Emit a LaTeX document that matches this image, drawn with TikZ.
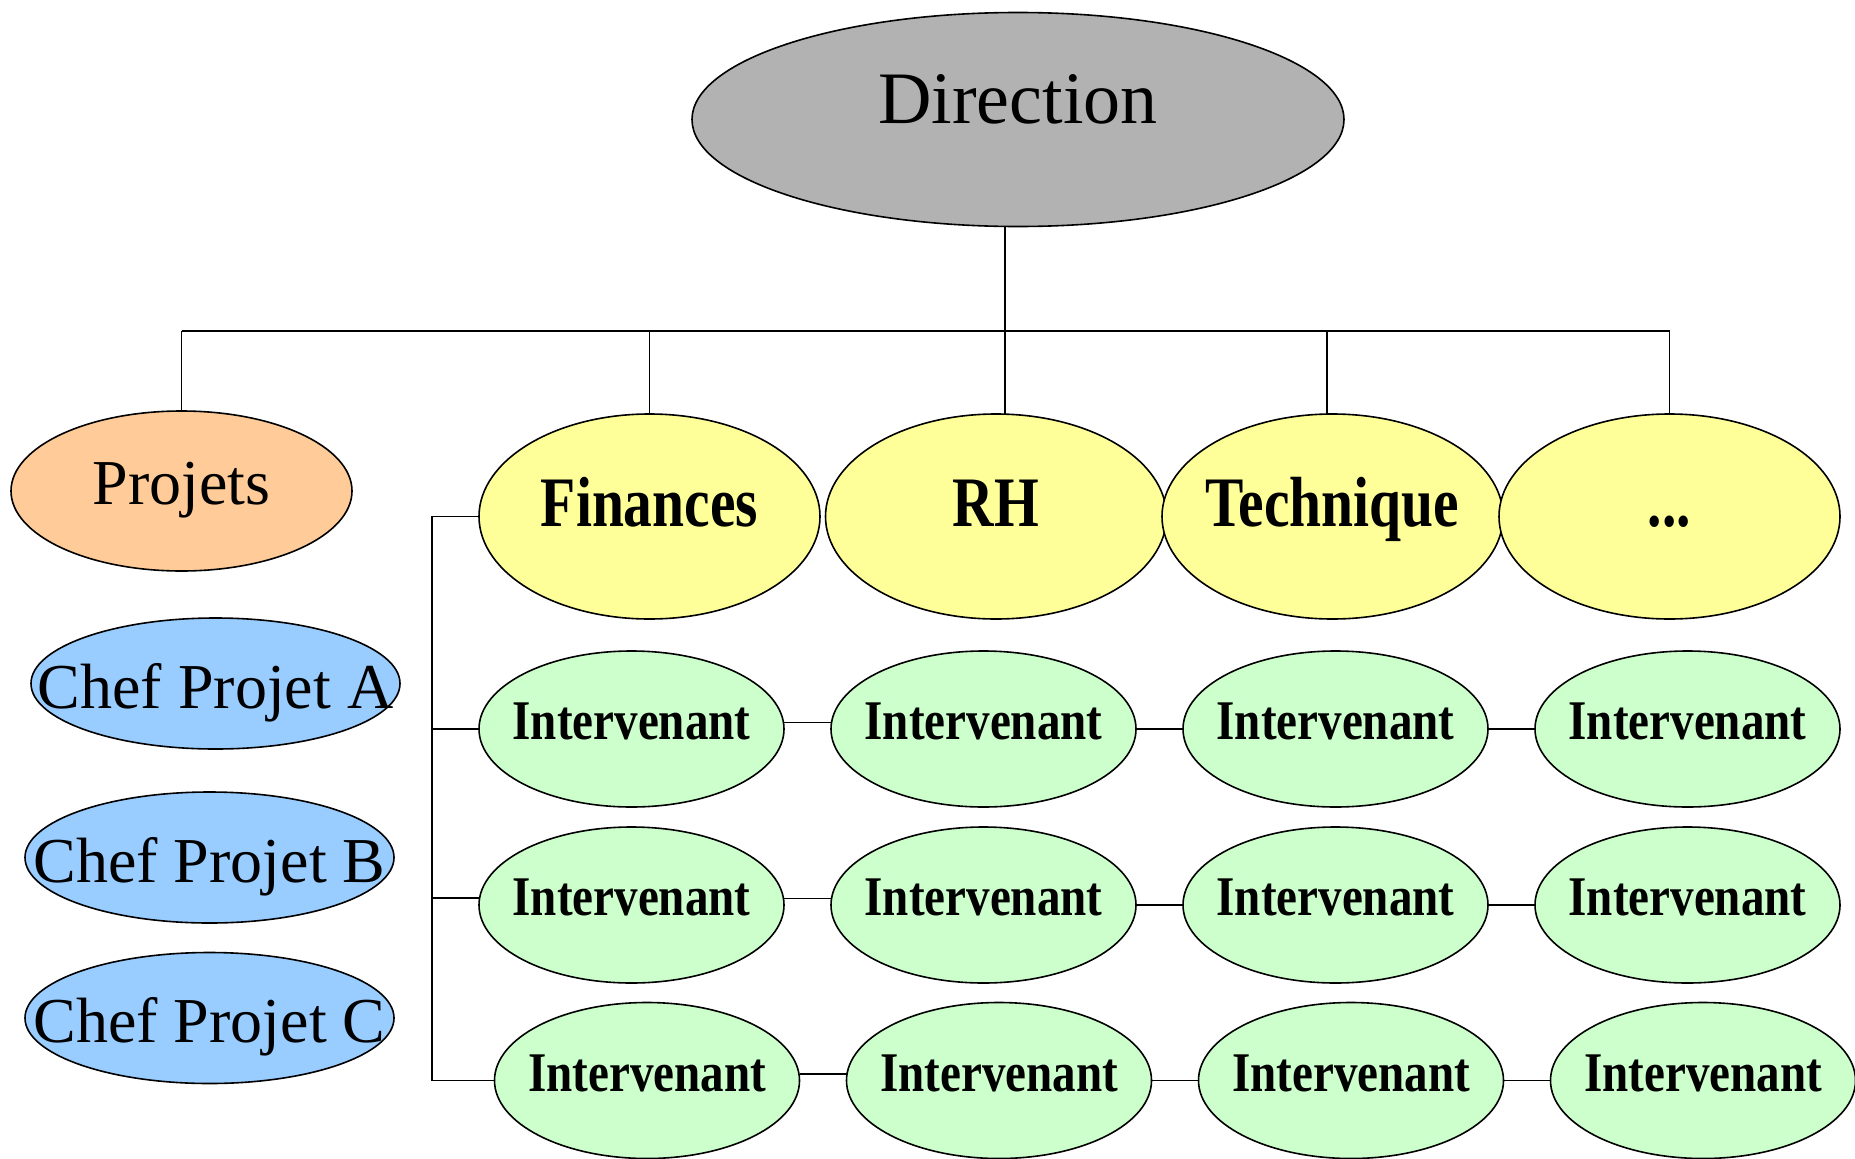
\documentclass[tikz,border=0pt]{standalone}
\usepackage{fontspec}
\usepackage{graphicx}
\setmainfont{Liberation Serif}
\usetikzlibrary{shapes.geometric}

\definecolor{dirgray}{HTML}{B2B2B2}
\definecolor{projorange}{HTML}{FFCC99}
\definecolor{chefblue}{HTML}{99CCFF}
\definecolor{deptyellow}{HTML}{FFFF99}
\definecolor{intgreen}{HTML}{CCFFCC}

% label helpers: zero-width boxes so the ellipse size is set by its own keys
\newcommand{\plainlabel}[2]{\makebox[0pt]{\fontsize{#1}{#1}\selectfont #2}}
\newcommand{\narrowlabel}[3]{\makebox[0pt]{\scalebox{#2}[1]{\fontsize{#1}{#1}\selectfont\bfseries #3}}}

\tikzset{
  oval/.style={ellipse, draw=black, line width=1.6pt, inner sep=0pt, outer sep=0pt, text depth=0pt},
  topoval/.style={oval, fill=dirgray, minimum width=652pt, minimum height=214pt, text height=7pt},
  projoval/.style={oval, fill=projorange, minimum width=341pt, minimum height=160pt, text height=26pt},
  chefoval/.style={oval, fill=chefblue, minimum width=369pt, minimum height=131pt, text height=49pt},
  deptoval/.style={oval, fill=deptyellow, minimum width=341pt, minimum height=205pt, text height=19pt},
  intoval/.style={oval, fill=intgreen, minimum width=305pt, minimum height=156pt, text height=21pt},
  link/.style={draw=black, line width=1.7pt},
}

\newcommand{\deptlabel}[1]{\narrowlabel{71}{0.81}{#1}}
\newcommand{\intlabel}{\narrowlabel{56}{0.84}{Intervenant}}

\begin{document}
\begin{tikzpicture}[x=1pt,y=-1pt]
  \useasboundingbox (0,0) rectangle (1855,1159);

  % top of the hierarchy
  \node[topoval] (dir) at (1018,119.5) {\plainlabel{74}{Direction}};

  % projects column
  \node[projoval] (proj) at (181.5,491) {\plainlabel{64}{Projets}};
  \node[chefoval] (chefA) at (215.5,683.5) {\plainlabel{64}{Chef Projet A}};
  \node[chefoval] (chefB) at (209.5,857.5) {\plainlabel{64}{Chef Projet B}};
  \node[chefoval] (chefC) at (209.5,1018) {\plainlabel{64}{Chef Projet C}};

  % departments
  \node[deptoval] (fin)  at (649.5,516.5)  {\deptlabel{Finances}};
  \node[deptoval] (rh)   at (996,516.5)    {\deptlabel{RH}};
  \node[deptoval] (tech) at (1332.5,516.5) {\deptlabel{Technique}};
  \node[deptoval] (more) at (1669.5,516.5) {\deptlabel{...}};

  % staff grid
  \foreach \c/\x in {1/631.5,2/983.5,3/1335.5,4/1687.5}{
    \node[intoval] (i1\c) at (\x,729) {\intlabel};
    \node[intoval] (i2\c) at (\x,905) {\intlabel};
  }
  \foreach \c/\x in {1/647,2/999,3/1351,4/1703}{
    \node[intoval] (i3\c) at (\x,1080.5) {\intlabel};
  }

  % tree from Direction to the second level
  \coordinate (bus) at (1005,331);
  \coordinate (lbus) at (432,0);
  \draw[link] (bus |- dir.south) -- (bus |- rh.north);
  \draw[link] (proj.north |- bus) -- (more.north |- bus);
  \draw[link] (proj.north |- bus) -- (proj.north);
  \draw[link] (fin.north |- bus) -- (fin.north);
  \draw[link] ([xshift=-5.5pt]tech.north |- bus) -- ([xshift=-5.5pt]tech.north);
  \draw[link] (more.north |- bus) -- (more.north);

  % left bracket feeding the staff rows
  \draw[link] (fin.west) -| (lbus |- i31.west) -- (i31.west);
  \draw[link] (lbus |- i11.west) -- (i11.west);
  \draw[link] ([yshift=7pt]i21.west -| lbus) -- ([yshift=7pt]i21.west);

  % links along each row
  \foreach \r in {1,2,3}{
    \draw[link] ([yshift=6.5pt]i\r1.east) -- ([yshift=6.5pt]i\r2.west);
    \draw[link] (i\r2.east) -- (i\r3.west);
    \draw[link] (i\r3.east) -- (i\r4.west);
  }
\end{tikzpicture}
\end{document}
